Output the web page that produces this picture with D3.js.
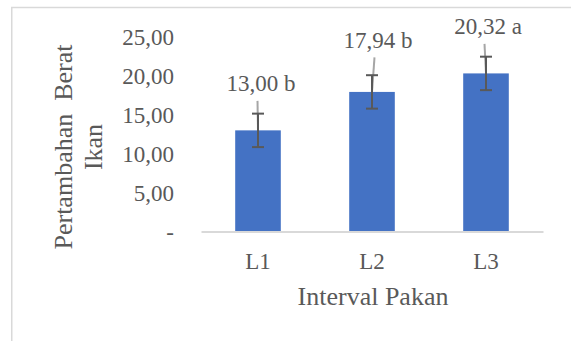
<!DOCTYPE html>
<html>
<head>
<meta charset="utf-8">
<script src="https://cdn.jsdelivr.net/npm/d3@7"></script>
<style>
  html, body { margin: 0; padding: 0; background: #fff; }
  svg { display: block; }
</style>
</head>
<body>
<div id="chart"></div>
<script>
// data
const categories = ["L1", "L2", "L3"];
const values = [13.00, 17.94, 20.32];
const errors = [2.15, 2.15, 2.15];
const letters = ["b", "b", "a"];
const yTicks = [0, 5, 10, 15, 20, 25];

// data labels were dragged away from their bars, these are the offsets (px)
const labelShift = [[3, -39], [6, -44], [2, -39]];

const W = 571, H = 341;
const plot = { left: 201, right: 543, top: 37, bottom: 231.5 };
const textColor = "#595959";
const serif = "Liberation Serif";

const svg = d3.select("#chart").append("svg")
    .attr("width", W)
    .attr("height", H)
    .style("font-family", serif);

// outer frame of the chart (runs off the right and bottom edge)
svg.append("rect")
    .attr("x", 11.75).attr("y", 7.5)
    .attr("width", W + 20).attr("height", H + 20)
    .attr("fill", "none")
    .attr("stroke", "#d9d9d9")
    .attr("stroke-width", 1.5);

const x = d3.scaleBand()
    .domain(categories)
    .range([plot.left, plot.right])
    .paddingInner(0.6)
    .paddingOuter(0.3);

const y = d3.scaleLinear()
    .domain([0, 25])
    .range([plot.bottom, plot.top]);

const fmt = v => v === 0 ? "-" : d3.format(".2f")(v).replace(".", ",");

// y axis, no line, only labels
const yAxis = svg.append("g")
    .attr("transform", `translate(${plot.left - 27},0)`)
    .call(d3.axisLeft(y).tickValues(yTicks).tickFormat(fmt).tickSize(0).tickPadding(0));
yAxis.attr("font-family", null).attr("font-size", null);
yAxis.select(".domain").remove();
yAxis.selectAll("text")
    .style("font-family", serif)
    .style("font-size", "23px")
    .attr("fill", textColor)
    .attr("dy", "0.33em");

// bars
const bars = categories.map((c, i) => ({ c, v: values[i], e: errors[i], l: letters[i], s: labelShift[i] }));

svg.append("g").selectAll("rect")
    .data(bars)
    .enter().append("rect")
    .attr("x", d => x(d.c))
    .attr("y", d => y(d.v))
    .attr("width", x.bandwidth())
    .attr("height", d => y(0) - y(d.v))
    .attr("fill", "#4472c4");

// x axis baseline and category labels
const xAxis = svg.append("g")
    .attr("transform", `translate(0,${plot.bottom})`)
    .call(d3.axisBottom(x).tickSize(0).tickPadding(0));
xAxis.attr("font-family", null).attr("font-size", null);
xAxis.select(".domain")
    .attr("stroke", "#d9d9d9")
    .attr("stroke-width", 2);
xAxis.selectAll("text")
    .style("font-family", serif)
    .style("font-size", "23px")
    .attr("fill", textColor)
    .attr("dy", null)
    .attr("y", 37);

const cx = d => x(d.c) + x.bandwidth() / 2;
const labelX = d => cx(d) + d.s[0];
const labelY = d => y(d.v) + d.s[1];

// leader lines from moved labels down to the bar top
svg.append("g").selectAll("line")
    .data(bars)
    .enter().append("line")
    .attr("x1", d => labelX(d) - 3.5)
    .attr("y1", d => labelY(d) + 9.5)
    .attr("x2", d => cx(d))
    .attr("y2", d => y(d.v))
    .attr("stroke", "#a6a6a6")
    .attr("stroke-width", 2);

// error bars
const err = svg.append("g")
    .attr("stroke", "#595959")
    .attr("stroke-width", 2)
    .selectAll("g")
    .data(bars)
    .enter().append("g");
err.append("line")
    .attr("x1", cx).attr("x2", cx)
    .attr("y1", d => y(d.v + d.e))
    .attr("y2", d => y(d.v - d.e));
err.append("line")
    .attr("x1", d => cx(d) - 6).attr("x2", d => cx(d) + 6)
    .attr("y1", d => y(d.v + d.e)).attr("y2", d => y(d.v + d.e));
err.append("line")
    .attr("x1", d => cx(d) - 6).attr("x2", d => cx(d) + 6)
    .attr("y1", d => y(d.v - d.e)).attr("y2", d => y(d.v - d.e));

// data labels
svg.append("g").selectAll("text")
    .data(bars)
    .enter().append("text")
    .attr("x", labelX)
    .attr("y", labelY)
    .attr("text-anchor", "middle")
    .style("font-family", serif)
    .style("font-size", "23px")
    .attr("fill", textColor)
    .text(d => fmt(d.v) + " " + d.l);

// axis titles
svg.append("text")
    .attr("transform", "translate(72,147) rotate(-90)")
    .attr("text-anchor", "middle")
    .style("font-family", serif)
    .style("font-size", "26px")
    .style("white-space", "pre")
    .attr("fill", textColor)
    .text("Pertambahan  Berat");
svg.append("text")
    .attr("transform", "translate(102,147) rotate(-90)")
    .attr("text-anchor", "middle")
    .style("font-family", serif)
    .style("font-size", "26px")
    .attr("fill", textColor)
    .text("Ikan");

svg.append("text")
    .attr("x", (plot.left + plot.right) / 2 + 1)
    .attr("y", 305)
    .attr("text-anchor", "middle")
    .style("font-family", serif)
    .style("font-size", "26px")
    .attr("fill", textColor)
    .text("Interval Pakan");
</script>
</body>
</html>
